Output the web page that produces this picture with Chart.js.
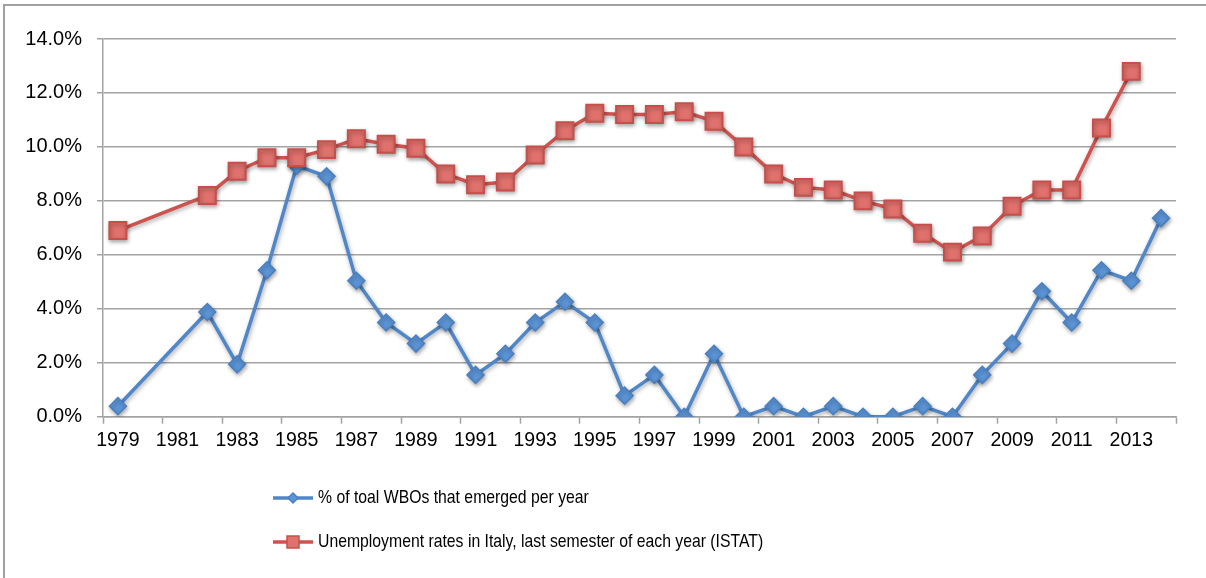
<!DOCTYPE html>
<html>
<head>
<meta charset="utf-8">
<script src="https://cdn.jsdelivr.net/npm/chart.js@4/dist/chart.umd.min.js"></script>
<style>
  html, body { margin: 0; padding: 0; background: #ffffff; }
  canvas { display: block; }
</style>
</head>
<body>
<canvas id="chart" width="1206" height="578"></canvas>
<script>
// Years on the category axis
const years = [];
for (let y = 1979; y <= 2014; y++) years.push(String(y));

// Share of total WBOs that emerged in each year (%)
const wboShare = [
  0.39, null, null, 3.88, 1.94, 5.43, 9.30, 8.91, 5.04, 3.49,
  2.71, 3.49, 1.55, 2.33, 3.49, 4.26, 3.49, 0.78, 1.55, 0.00,
  2.33, 0.00, 0.39, 0.00, 0.39, 0.00, 0.00, 0.39, 0.00, 1.55,
  2.71, 4.65, 3.49, 5.43, 5.04, 7.36
];

// Unemployment rate in Italy, last semester of each year (%)
const unemployment = [
  6.9, null, null, 8.2, 9.1, 9.6, 9.6, 9.9, 10.3, 10.1,
  9.95, 9.0, 8.6, 8.7, 9.7, 10.6, 11.25, 11.2, 11.2, 11.3,
  10.95, 10.0, 9.0, 8.5, 8.4, 8.0, 7.7, 6.8, 6.1, 6.7,
  7.8, 8.4, 8.4, 10.7, 12.8, null
];

const seriesNames = [
  '% of toal WBOs that emerged per year',
  'Unemployment rates in Italy, last semester of each year (ISTAT)'
];

const FONT = '"Liberation Sans", Arial, sans-serif';
const AXIS_GREY = '#a3a3a3';

// Thin frame along the top and left edges
const framePlugin = {
  id: 'frame',
  beforeDraw(chart) {
    const ctx = chart.ctx;
    ctx.save();
    ctx.strokeStyle = '#a0a0a0';
    ctx.lineWidth = 2;
    ctx.beginPath();
    ctx.moveTo(4, chart.height);
    ctx.lineTo(4, 5);
    ctx.lineTo(chart.width, 5);
    ctx.stroke();
    ctx.restore();
  }
};

// Soft drop shadow under lines and markers
const shadowPlugin = {
  id: 'shadow',
  beforeDatasetDraw(chart) {
    const ctx = chart.ctx;
    ctx.save();
    ctx.shadowColor = 'rgba(0,0,0,0.33)';
    ctx.shadowBlur = 4;
    ctx.shadowOffsetX = 1;
    ctx.shadowOffsetY = 2;
  },
  afterDatasetDraw(chart) {
    chart.ctx.restore();
  }
};

// Stacked legend below the plot, with condensed lettering
const stackedLegend = {
  id: 'stackedLegend',
  afterDraw(chart) {
    const ctx = chart.ctx;
    const x0 = 273, x1 = 313, textX = 318;
    const rows = [498, 542];
    const squeeze = 0.83;
    ctx.save();
    chart.data.datasets.forEach((ds, i) => {
      const y = rows[i];
      const cx = (x0 + x1) / 2;
      ctx.strokeStyle = ds.borderColor;
      ctx.lineWidth = 3.5;
      ctx.beginPath();
      ctx.moveTo(x0, y);
      ctx.lineTo(x1, y);
      ctx.stroke();
      ctx.fillStyle = ds.pointBackgroundColor;
      ctx.strokeStyle = ds.pointBorderColor;
      ctx.lineWidth = 1.5;
      ctx.beginPath();
      if (ds.pointStyle === 'rectRot') {
        const r = 5;
        ctx.moveTo(cx, y - r);
        ctx.lineTo(cx + r, y);
        ctx.lineTo(cx, y + r);
        ctx.lineTo(cx - r, y);
        ctx.closePath();
      } else {
        const s = 6;
        ctx.rect(cx - s, y - s, 2 * s, 2 * s);
      }
      ctx.fill();
      ctx.stroke();
      ctx.save();
      ctx.translate(textX, y);
      ctx.scale(squeeze, 1);
      ctx.fillStyle = '#000000';
      ctx.font = '19px ' + FONT;
      ctx.textBaseline = 'middle';
      ctx.textAlign = 'left';
      ctx.fillText(ds.label, 0, 0);
      ctx.restore();
    });
    ctx.restore();
  }
};

new Chart(document.getElementById('chart'), {
  type: 'line',
  data: {
    labels: years,
    datasets: [
      {
        label: seriesNames[0],
        data: wboShare,
        order: 1,
        borderColor: '#4f87c9',
        borderWidth: 3.5,
        pointStyle: 'rectRot',
        pointRadius: 8.5,
        pointBackgroundColor: '#5c95d7',
        pointBorderColor: '#4a80c0',
        pointBorderWidth: 1.5,
        spanGaps: true,
        tension: 0
      },
      {
        label: seriesNames[1],
        data: unemployment,
        order: 0,
        borderColor: '#cd534f',
        borderWidth: 3.5,
        pointStyle: 'rect',
        pointRadius: 12,
        pointBackgroundColor: '#e1716c',
        pointBorderColor: '#c64f4b',
        pointBorderWidth: 2,
        spanGaps: true,
        tension: 0
      }
    ]
  },
  options: {
    responsive: false,
    devicePixelRatio: 1,
    animation: false,
    layout: { padding: { top: 39, left: 0, right: 30, bottom: 121.3 } },
    plugins: {
      legend: { display: false },
      tooltip: { enabled: false }
    },
    scales: {
      x: {
        type: 'category',
        offset: true,
        afterFit(scale) { scale.height = 40; },
        grid: {
          offset: true,
          drawOnChartArea: false,
          drawTicks: true,
          tickLength: 7,
          tickWidth: 1.5,
          tickColor: (c) => (c.index === undefined || c.index % 2 === 0) ? AXIS_GREY : 'rgba(0,0,0,0)'
        },
        border: { display: true, color: AXIS_GREY, width: 1.5 },
        ticks: {
          autoSkip: false,
          maxRotation: 0,
          minRotation: 0,
          padding: 5,
          color: '#000000',
          font: { family: FONT, size: 19.5 },
          callback(value, index) {
            return index % 2 === 0 ? this.getLabelForValue(value) : '';
          }
        }
      },
      y: {
        min: 0,
        max: 14,
        afterFit(scale) { scale.width = 103; },
        grid: {
          color: AXIS_GREY,
          lineWidth: 1.5,
          drawTicks: true,
          tickLength: 6
        },
        border: { display: true, color: AXIS_GREY, width: 1.5 },
        ticks: {
          stepSize: 2,
          padding: 15,
          color: '#000000',
          font: { family: FONT, size: 20 },
          callback: (v) => v.toFixed(1) + '%'
        }
      }
    }
  },
  plugins: [framePlugin, shadowPlugin, stackedLegend]
});
</script>
</body>
</html>
